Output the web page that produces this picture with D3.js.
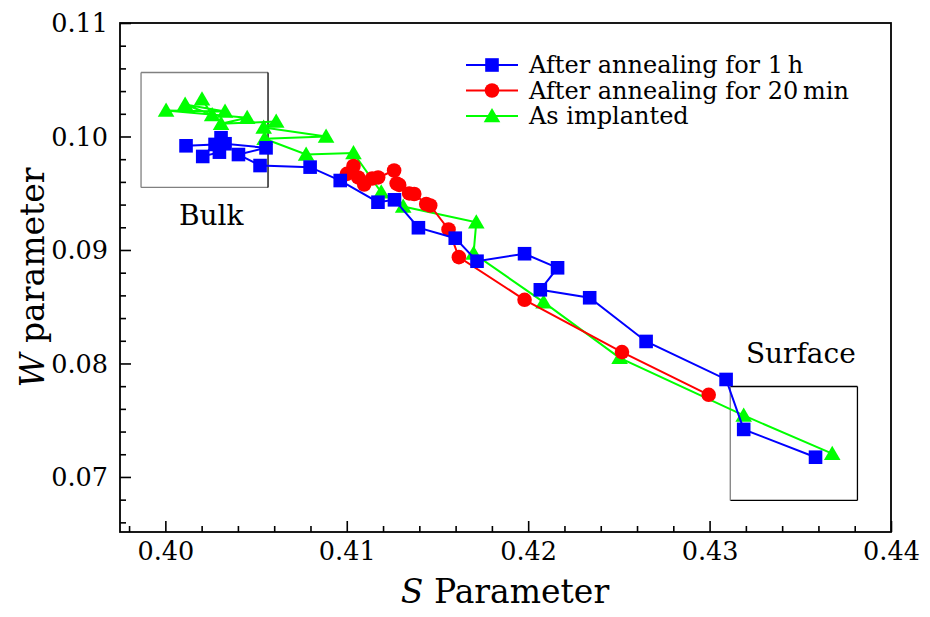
<!DOCTYPE html>
<html><head><meta charset="utf-8">
<script src="https://cdn.jsdelivr.net/npm/d3@7"></script>
<style>body{margin:0;background:#fff}svg text{font-family:"DejaVu Serif",serif;fill:#000}</style>
</head><body><svg id="c" width="930" height="617"></svg>
<script>
const seriesNames = ["After annealing for 1\u2009h","After annealing for 20\u2009min","As implanted"];
const seriesColors = ["#0000ff","#ff0000","#00ff00"];
const blueS = [0.43584,0.43188,0.43091,0.42650,0.42339,0.42067,0.42162,0.41980,0.41718,0.41598,0.41395,0.41263,0.41172,0.40964,0.40798,0.40522,0.40403,0.40555,0.40329,0.40298,0.40206,0.40307,0.40274,0.40114];
const blueW = [0.07174,0.07419,0.07859,0.08194,0.08579,0.08649,0.08843,0.08967,0.08901,0.09104,0.09196,0.09442,0.09421,0.09612,0.09730,0.09744,0.09841,0.09900,0.09936,0.09862,0.09824,0.09989,0.09930,0.09918];
const redS = [0.42995,0.42517,0.41980,0.41618,0.41561,0.41460,0.41438,0.41372,0.41344,0.41289,0.41275,0.41261,0.41173,0.41140,0.41096,0.41063,0.41001,0.41037];
const redW = [0.07724,0.08100,0.08561,0.08937,0.09181,0.09392,0.09405,0.09493,0.09498,0.09573,0.09586,0.09700,0.09639,0.09630,0.09577,0.09639,0.09671,0.09740];
const greenS = [0.43676,0.43188,0.42504,0.42085,0.41699,0.41714,0.41311,0.41190,0.41037,0.40776,0.40547,0.40886,0.40542,0.40611,0.40307,0.40451,0.40004,0.40329,0.40109,0.40258,0.40202];
const greenW = [0.07205,0.07542,0.08050,0.08540,0.08969,0.09245,0.09383,0.09509,0.09855,0.09841,0.09980,0.10000,0.10079,0.10132,0.10112,0.10165,0.10229,0.10220,0.10282,0.10189,0.10329];
const xTicks = [0.40,0.41,0.42,0.43,0.44];
const xTickLabels = ["0.40","0.41","0.42","0.43","0.44"];
const yTicks = [0.07,0.08,0.09,0.10,0.11];
const yTickLabels = ["0.07","0.08","0.09","0.10","0.11"];
const boxes = [
  {label:"Bulk", x0:0.39866, x1:0.40566, y0:0.09551, y1:0.10564, tx:0.40253, ty:0.0922},
  {label:"Surface", x0:0.43114, x1:0.43815, y0:0.06793, y1:0.07797, tx:0.43503, ty:0.0800}
];

const svg = d3.select("#c");
const m = {l:120, r:891, t:23, b:532};
const x = d3.scaleLinear().domain([0.3975,0.44]).range([m.l,m.r]);
const y = d3.scaleLinear().domain([0.06515,0.11]).range([m.b,m.t]);

const xMinor = d3.range(0.398,0.4401,0.002).filter(v=>!xTicks.some(t=>Math.abs(t-v)<1e-6));
const yMinor = d3.range(0.066,0.1101,0.002).filter(v=>!yTicks.some(t=>Math.abs(t-v)<1e-6));

const gx = svg.append("g").attr("transform",`translate(0,${m.b})`);
gx.call(d3.axisBottom(x).tickValues(xTicks).tickFormat((d,i)=>xTickLabels[i]).tickSizeInner(-11).tickSizeOuter(0).tickPadding(10));
gx.append("g").call(d3.axisBottom(x).tickValues(xMinor).tickFormat("").tickSizeInner(-6).tickSizeOuter(0));
const gy = svg.append("g").attr("transform",`translate(${m.l},0)`);
gy.call(d3.axisLeft(y).tickValues(yTicks).tickFormat((d,i)=>yTickLabels[i]).tickSizeInner(-11).tickSizeOuter(0).tickPadding(12));
gy.append("g").call(d3.axisLeft(y).tickValues(yMinor).tickFormat("").tickSizeInner(-6).tickSizeOuter(0));
svg.selectAll(".domain").remove();
svg.selectAll(".tick line").attr("stroke","#000").attr("stroke-width",1.6);
svg.selectAll(".tick text").attr("font-size",25.5).attr("font-family","Liberation Serif");
gx.selectAll(".tick text").attr("dy","0.71em");
gy.selectAll(".tick text").attr("dy","0.35em");

svg.append("rect").attr("x",m.l).attr("y",m.t).attr("width",m.r-m.l).attr("height",m.b-m.t)
  .attr("fill","none").attr("stroke","#000").attr("stroke-width",1.8);

boxes.forEach((b,i)=>{
  const X0=x(b.x0),X1=x(b.x1),Y0=y(b.y1),Y1=y(b.y0);
  const g = svg.append("g");
  const gray="#808080", blk="#000";
  const segs = i===0 ? [[X0,Y0,X1,Y0,gray],[X0,Y1,X1,Y1,gray],[X0,Y0,X0,Y1,gray],[X1,Y0,X1,Y1,blk]]
                     : [[X0,Y0,X1,Y0,blk],[X0,Y1,X1,Y1,blk],[X1,Y0,X1,Y1,blk],[X0,Y0,X0,Y1,gray]];
  segs.forEach(s=>g.append("line").attr("x1",s[0]).attr("y1",s[1]).attr("x2",s[2]).attr("y2",s[3]).attr("stroke",s[4]).attr("stroke-width",1.3));
  svg.append("text").attr("x",x(b.tx)).attr("y",y(b.ty)).attr("text-anchor","middle").attr("font-size",28).text(b.label);
});

const series = [
  {s:blueS,w:blueW,c:seriesColors[0],sym:"square"},
  {s:redS,w:redW,c:seriesColors[1],sym:"circle"},
  {s:greenS,w:greenW,c:seriesColors[2],sym:"triangle"}
];
function marker(g,sym,cx,cy,c){
  if(sym==="square") g.append("rect").attr("x",cx-6.8).attr("y",cy-6.8).attr("width",13.6).attr("height",13.6).attr("fill",c);
  else if(sym==="circle") g.append("circle").attr("cx",cx).attr("cy",cy).attr("r",7.3).attr("fill",c);
  else g.append("path").attr("d",`M${cx},${cy-8}L${cx+8.3},${cy+6.3}L${cx-8.3},${cy+6.3}Z`).attr("fill",c);
}
const line = d3.line().x(d=>x(d[0])).y(d=>y(d[1]));
const drawOrder = [2,1,0];
drawOrder.forEach(k=>{
  const sr = series[k];
  const pts = sr.s.map((v,i)=>[v,sr.w[i]]);
  const g = svg.append("g");
  g.append("path").attr("d",line(pts)).attr("fill","none").attr("stroke",sr.c).attr("stroke-width",2);
  pts.forEach(p=>marker(g,sr.sym,x(p[0]),y(p[1]),sr.c));
});

const lg = svg.append("g");
[0,1,2].forEach(i=>{
  const yy = 65 + i*25.5;
  lg.append("line").attr("x1",466).attr("x2",518).attr("y1",yy).attr("y2",yy).attr("stroke",seriesColors[i]).attr("stroke-width",2);
  marker(lg,series[i].sym,492,yy,seriesColors[i]);
  lg.append("text").attr("x",529).attr("y",yy+8).attr("font-size",24).attr("textLength",null).text(seriesNames[i]);
});

const xt = svg.append("text").attr("x",505).attr("y",603).attr("text-anchor","middle").attr("font-size",33);
xt.append("tspan").attr("font-style","italic").text("S");
xt.append("tspan").text(" Parameter");
const yt = svg.append("text").attr("transform",`translate(44,${(m.t+m.b)/2}) rotate(-90)`).attr("text-anchor","middle").attr("font-size",33);
yt.append("tspan").attr("font-style","italic").text("W");
yt.append("tspan").text(" parameter");
</script></body></html>
